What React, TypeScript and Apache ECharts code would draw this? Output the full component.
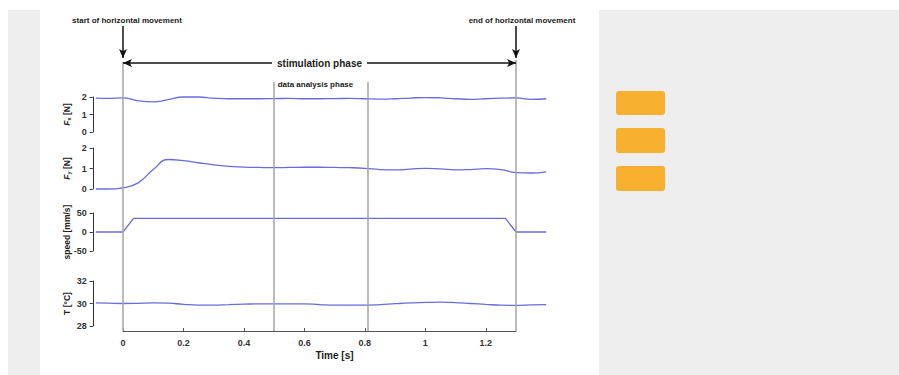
import React, { useEffect, useRef } from "react";
import * as echarts from "echarts";

// ---- data ----
const timeS = [-0.09, -0.05, 0, 0.05, 0.1, 0.15, 0.2, 0.25, 0.3, 0.35, 0.4, 0.45, 0.5, 0.55, 0.6, 0.65, 0.7, 0.75, 0.8, 0.85, 0.9, 0.95, 1.0, 1.05, 1.1, 1.15, 1.2, 1.25, 1.3, 1.35, 1.4];
const fxN = [1.93, 1.92, 1.95, 1.78, 1.72, 1.85, 2.0, 2.0, 1.93, 1.9, 1.9, 1.9, 1.91, 1.92, 1.9, 1.9, 1.91, 1.92, 1.9, 1.88, 1.9, 1.94, 1.97, 1.95, 1.9, 1.87, 1.9, 1.93, 1.95, 1.86, 1.9];
const fyN = [0, 0, 0.06, 0.3, 0.95, 1.44, 1.38, 1.28, 1.18, 1.1, 1.07, 1.05, 1.04, 1.05, 1.06, 1.06, 1.05, 1.04, 1.01, 0.95, 0.93, 0.97, 1.01, 0.98, 0.93, 0.95, 0.99, 0.95, 0.8, 0.78, 0.84];
const tempC = [30.05, 30.03, 30.0, 30.02, 30.05, 30.03, 29.92, 29.86, 29.86, 29.9, 29.94, 29.97, 29.97, 29.97, 29.97, 29.9, 29.85, 29.85, 29.85, 29.9, 29.98, 30.05, 30.1, 30.12, 30.08, 30.0, 29.92, 29.85, 29.83, 29.88, 29.9];
const speedTimeS = [-0.09, 0, 0.035, 1.265, 1.3, 1.4];
const speedMmS = [0, 0, 36, 36, 0, 0];

const movementStartS = 0;
const movementEndS = 1.3;
const analysisStartS = 0.5;
const analysisEndS = 0.81;
const xTicks = [0, 0.2, 0.4, 0.6, 0.8, 1, 1.2];

const FONT = "Liberation Sans, Arial, sans-serif";
const LINE = "#6b6bdc";
const AXIS = "#333";

const pairs = (xs: number[], ys: number[]) => xs.map((x, i) => [x, ys[i]]);

export default function App() {
  const ref = useRef<HTMLDivElement>(null);
  useEffect(() => {
    if (!ref.current) return;
    const chart = echarts.init(ref.current, null, { renderer: "svg" });
    const pxPerS = 302.3;
    const axisLeft = 123;
    const dataMin = -0.1;
    const dataMax = 1.4;
    const panels = [
      { top: 97, height: 35, min: 0, max: 2, interval: 1, name: "{i|F}{s|x}{t| [N]}" },
      { top: 148, height: 41, min: 0, max: 2, interval: 1, name: "{i|F}{s|y}{t| [N]}" },
      { top: 213, height: 38, min: -50, max: 50, interval: 50, name: "{t|speed [mm/s]}" },
      { top: 281, height: 45, min: 28, max: 32, interval: 2, name: "{t|T [°C]}" },
    ];
    const nameRich = {
      i: { fontStyle: "italic", fontWeight: "bold", fontSize: 8.5, fontFamily: FONT, color: "#222" },
      s: { fontWeight: "bold", fontSize: 5.5, fontFamily: FONT, color: "#222", verticalAlign: "bottom", padding: [3, 0, 0, 0] },
      t: { fontWeight: "bold", fontSize: 8.5, fontFamily: FONT, color: "#222" },
    };
    const grids: any[] = panels.map((p) => ({
      left: axisLeft + dataMin * pxPerS, width: (dataMax - dataMin) * pxPerS, top: p.top, height: p.height,
    }));
    grids.push({ left: axisLeft, width: 1.3 * pxPerS, top: 0, height: 331 });

    const xAxes: any[] = panels.map((_, i) => ({
      type: "value", gridIndex: i, min: dataMin, max: dataMax, show: false,
    }));
    xAxes.push({
      type: "value", gridIndex: 4, min: 0, max: 1.3, interval: 0.2,
      axisLine: { show: true, onZero: false, lineStyle: { color: "#555", width: 1 } },
      axisTick: { show: true, inside: true, length: 3, lineStyle: { color: "#555" } },
      splitLine: { show: false },
      axisLabel: {
        show: true, showMaxLabel: false, margin: 7, fontSize: 9, fontWeight: "bold", color: "#333", fontFamily: FONT,
        formatter: (v: number) => (xTicks.some((t) => Math.abs(t - v) < 1e-6) ? String(v) : ""),
      },
      name: "Time [s]", nameLocation: "middle", nameGap: 19, nameMoveOverlap: false,
      nameTextStyle: { fontSize: 10, fontWeight: "bold", color: "#222", fontFamily: FONT, padding: [0, 0, 0, 30] },
    });

    const yAxes: any[] = panels.map((p, i) => ({
      type: "value", gridIndex: i, min: p.min, max: p.max, interval: p.interval,
      axisLine: { show: true, onZero: false, lineStyle: { color: AXIS, width: 1 } },
      axisTick: { show: true, length: 3, lineStyle: { color: AXIS } },
      splitLine: { show: false },
      axisLabel: { margin: 6, fontSize: 9, fontWeight: "bold", color: "#333", fontFamily: FONT },
      name: p.name, nameLocation: "middle", nameGap: 21, nameMoveOverlap: false,
      nameTextStyle: { fontSize: 8.5, fontWeight: "bold", color: "#222", fontFamily: FONT, rich: nameRich },
    }));
    yAxes.push({ type: "value", gridIndex: 4, min: 0, max: 331, inverse: true, show: false });

    const dataLine = (i: number, data: number[][], smooth: boolean) => ({
      type: "line", xAxisIndex: i, yAxisIndex: i, data, smooth, showSymbol: false, clip: false,
      lineStyle: { color: LINE, width: 1.3 }, itemStyle: { color: LINE }, z: 3,
    });

    const labelStyle = { fontSize: 8, fontWeight: "bold", color: "#222", fontFamily: FONT };

    chart.setOption({
      animation: false,
      grid: grids,
      xAxis: xAxes,
      yAxis: yAxes,
      graphic: [
        { type: "rect", shape: { x: 8, y: 10, width: 32, height: 365 }, style: { fill: "#eeeeee" }, z: -10 },
        { type: "rect", shape: { x: 599, y: 10, width: 300, height: 365 }, style: { fill: "#eeeeee" }, z: -10 },
        { type: "rect", shape: { x: 616, y: 91, width: 49, height: 24, r: 3 }, style: { fill: "#f7b02f" } },
        { type: "rect", shape: { x: 616, y: 128, width: 49, height: 25, r: 3 }, style: { fill: "#f7b02f" } },
        { type: "rect", shape: { x: 616, y: 166, width: 49, height: 25, r: 3 }, style: { fill: "#f7b02f" } },
      ],
      series: [
        {
          type: "line", xAxisIndex: 4, yAxisIndex: 4, data: [], z: 1,
          markLine: {
            silent: true, symbol: ["none", "none"], animation: false,
            lineStyle: { color: "#a5a5a5", width: 1.5, type: "solid" }, label: { show: false },
            data: [
              [{ coord: [movementStartS, 62] }, { coord: [movementStartS, 331] }],
              [{ coord: [analysisStartS, 82] }, { coord: [analysisStartS, 331] }],
              [{ coord: [analysisEndS, 82] }, { coord: [analysisEndS, 331] }],
              [{ coord: [movementEndS, 60] }, { coord: [movementEndS, 331] }],
            ],
          },
        },
        dataLine(0, pairs(timeS, fxN), true),
        dataLine(1, pairs(timeS, fyN), true),
        dataLine(2, pairs(speedTimeS, speedMmS), false),
        dataLine(3, pairs(timeS, tempC), true),
        {
          type: "line", xAxisIndex: 4, yAxisIndex: 4, data: [], z: 5,
          markLine: {
            silent: true, symbol: ["none", "arrow"], symbolSize: [6, 9], animation: false,
            lineStyle: { color: "#111", width: 1.5, type: "solid" }, label: { show: false },
            data: [
              [{ coord: [movementStartS, 26] }, { coord: [movementStartS, 58] }],
              [{ coord: [movementEndS, 26] }, { coord: [movementEndS, 58] }],
            ],
          },
        },
        {
          type: "line", xAxisIndex: 4, yAxisIndex: 4, data: [], z: 5,
          markLine: {
            silent: true, symbol: ["arrow", "arrow"], symbolSize: [6, 9], animation: false,
            lineStyle: { color: "#111", width: 1.5, type: "solid" }, label: { show: false },
            data: [[{ coord: [movementStartS, 63] }, { coord: [movementEndS, 63] }]],
          },
        },
        {
          type: "line", xAxisIndex: 4, yAxisIndex: 4, data: [], z: 10,
          markPoint: {
            silent: true, symbol: "rect", symbolSize: 1, animation: false,
            itemStyle: { color: "rgba(0,0,0,0)" },
            data: [
              { coord: [movementStartS, 20], name: "start of horizontal movement", label: { show: true, position: "inside", offset: [4, 0], formatter: "{b}", ...labelStyle } },
              { coord: [movementEndS, 20], name: "end of horizontal movement", label: { show: true, position: "inside", offset: [6, 0], formatter: "{b}", ...labelStyle } },
              { coord: [(movementStartS + movementEndS) / 2, 63], name: "stimulation phase", label: { show: true, position: "inside", formatter: "{b}", ...labelStyle, fontSize: 10, backgroundColor: "#ffffff", padding: [2, 5] } },
              { coord: [analysisStartS, 84], name: "data analysis phase", label: { show: true, position: "right", distance: 3, formatter: "{b}", ...labelStyle, fontSize: 8 } },
            ],
          },
        },
      ],
    });
    return () => chart.dispose();
  }, []);
  return <div ref={ref} style={{ position: "absolute", left: 0, top: 0, width: 899, height: 375, background: "#fff" }} />;
}
